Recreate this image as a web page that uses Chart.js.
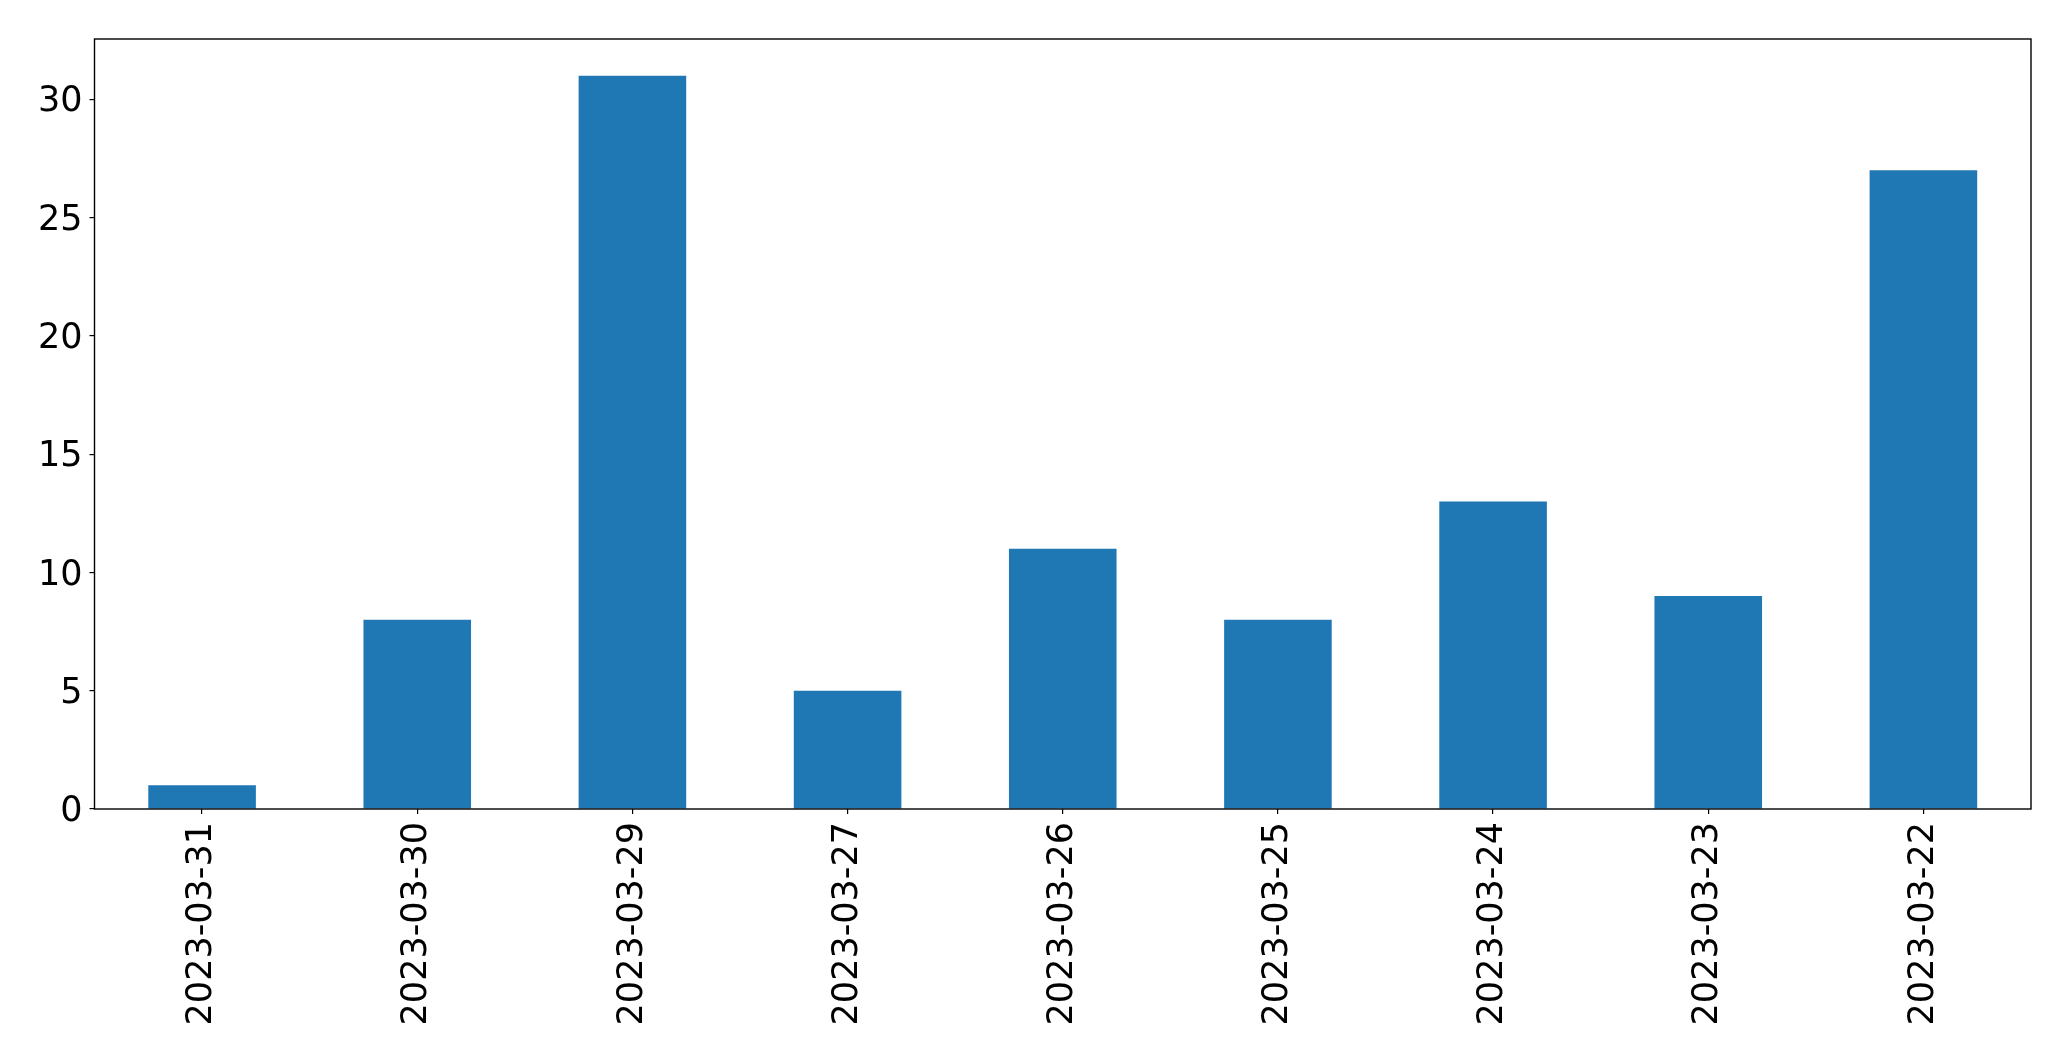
<!DOCTYPE html>
<html>
<head>
<meta charset="utf-8">
<script src="https://cdn.jsdelivr.net/npm/chart.js@4/dist/chart.umd.min.js"></script>
<style>
  html, body { margin: 0; padding: 0; background: #fff; }
  #wrap { width: 2071px; height: 1061px; }
</style>
</head>
<body>
<div id="wrap"><canvas id="barChart" width="2071" height="1061"></canvas></div>
<script>
// Data
const dates = ["2023-03-31", "2023-03-30", "2023-03-29", "2023-03-27", "2023-03-26",
               "2023-03-25", "2023-03-24", "2023-03-23", "2023-03-22"];
const counts = [1, 8, 31, 5, 11, 8, 13, 9, 27];
const yTicks = [0, 5, 10, 15, 20, 25, 30];

// box round the plot area, like matplotlib's spines
const frame = {
  id: "frame",
  afterDraw(chart) {
    const { ctx, chartArea: a } = chart;
    ctx.save();
    ctx.strokeStyle = "#000";
    ctx.lineWidth = 1.4;
    ctx.strokeRect(a.left, a.top, a.right - a.left, a.bottom - a.top);
    ctx.restore();
  }
};

const tickFont = { family: "DejaVu Sans", size: 35 };

new Chart(document.getElementById("barChart").getContext("2d"), {
  type: "bar",
  data: {
    labels: dates,
    datasets: [{
      data: counts,
      backgroundColor: "#1f77b4",
      categoryPercentage: 1.0,
      barPercentage: 0.5
    }]
  },
  options: {
    responsive: false,
    animation: false,
    layout: { padding: { top: 39, right: 40, left: 0, bottom: 0 } },
    plugins: { legend: { display: false }, tooltip: { enabled: false } },
    scales: {
      x: {
        grid: { offset: false, drawOnChartArea: false, drawTicks: true, tickLength: 5, color: "#000", lineWidth: 1.2 },
        border: { display: false },
        ticks: { color: "#000", font: tickFont, maxRotation: 90, minRotation: 90, padding: 8, autoSkip: false },
        afterFit(scale) { scale.height = 252; }
      },
      y: {
        min: 0,
        max: 32.55,
        afterBuildTicks(scale) { scale.ticks = yTicks.map(v => ({ value: v })); },
        grid: { drawOnChartArea: false, drawTicks: true, tickLength: 5, color: "#000", lineWidth: 1.2 },
        border: { display: false },
        ticks: { color: "#000", font: tickFont, padding: 7, labelOffset: 3 },
        afterFit(scale) { scale.width = 94.5; }
      }
    }
  },
  plugins: [frame]
});
</script>
</body>
</html>
